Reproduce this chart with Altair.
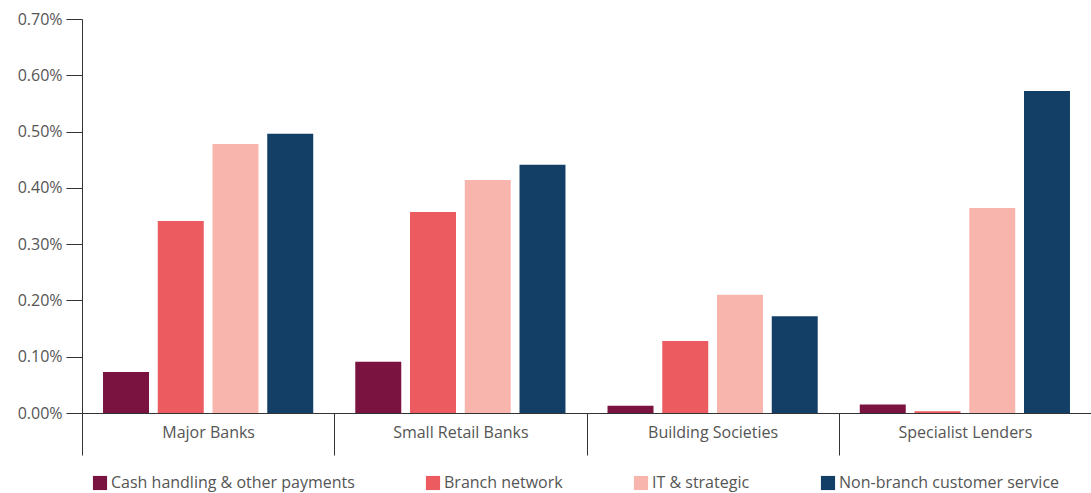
import altair as alt
import pandas as pd

groups = ["Major Banks", "Small Retail Banks", "Building Societies", "Specialist Lenders"]
series = ["Cash handling & other payments", "Branch network", "IT & strategic", "Non-branch customer service"]
colors = ["#7A1340", "#EB5B60", "#F7B5AE", "#133F66"]

cash = [0.073, 0.091, 0.013, 0.015]
branch = [0.341, 0.357, 0.128, 0.003]
it_strategic = [0.478, 0.414, 0.210, 0.364]
non_branch = [0.496, 0.441, 0.172, 0.572]

rows = []
for s, vals in zip(series, [cash, branch, it_strategic, non_branch]):
    for g, v in zip(groups, vals):
        rows.append({"group": g, "series": s, "value": v})
df = pd.DataFrame(rows)

FONT = "Open Sans"
TXT = "#555555"
AX = "#333333"

chart = alt.Chart(df).mark_bar().encode(
    x=alt.X("group:N", sort=groups,
            scale=alt.Scale(paddingInner=0, paddingOuter=0),
            axis=alt.Axis(title=None, tickBand="extent", tickSize=42, labelPadding=-31,
                          labelAngle=0, labelFontSize=16, labelColor=TXT, labelFont=FONT,
                          domainColor=AX, tickColor=AX, labelBaseline="top")),
    xOffset=alt.XOffset("series:N", sort=series,
                        scale=alt.Scale(paddingInner=0.16, paddingOuter=0.384)),
    y=alt.Y("value:Q", scale=alt.Scale(domain=[0, 0.7], nice=False),
            axis=alt.Axis(title=None, values=[0, 0.1, 0.2, 0.3, 0.4, 0.5, 0.6, 0.7],
                          labelExpr="format(datum.value, '.2f') + '%'",
                          grid=False, tickSize=16, labelPadding=4,
                          labelFontSize=16, labelColor=TXT, labelFont=FONT,
                          domainColor=AX, tickColor=AX)),
    color=alt.Color("series:N", sort=series,
                    scale=alt.Scale(domain=series, range=colors),
                    legend=alt.Legend(title=None, orient="none", direction="horizontal",
                                      legendX=10, legendY=456, symbolType="square",
                                      symbolSize=200, symbolStrokeWidth=0, columnPadding=70,
                                      labelFontSize=16, labelColor=TXT, labelFont=FONT,
                                      labelOffset=3, labelLimit=0)),
).properties(
    width=1009, height=394,
    autosize=alt.AutoSizeParams(type="none"),
    padding={"left": 82, "top": 19, "right": 0, "bottom": 80},
).configure_view(stroke=None)

chart.save("out.html", embed_options={"renderer": "svg", "actions": False})
